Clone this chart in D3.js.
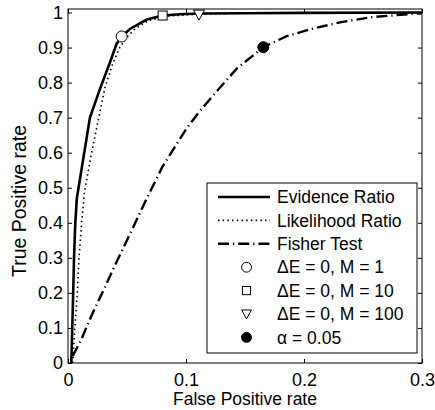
<!DOCTYPE html>
<html>
<head>
<meta charset="utf-8">
<script src="https://cdn.jsdelivr.net/npm/d3@7"></script>
<style>
  body { margin: 0; background: #fff; }
  svg { display: block; font-family: "Liberation Sans", Arial, Helvetica, sans-serif; }
</style>
</head>
<body>
<div id="chart"></div>
<script>
// datos
const evidenceFpr = [0.0028, 0.0032, 0.0036, 0.0044, 0.0051, 0.0062, 0.0075, 0.0186, 0.0271, 0.0356, 0.0412, 0.0455, 0.0525, 0.0667, 0.0802, 0.0949, 0.111, 0.15, 0.2, 0.3];
const evidenceTpr = [0.0, 0.05, 0.1, 0.2, 0.3, 0.4, 0.47, 0.70, 0.782, 0.858, 0.911, 0.9316, 0.953, 0.98, 0.9914, 0.995, 0.997, 0.998, 0.999, 1.0];

const likelihoodFpr = [0.004, 0.0045, 0.006, 0.0079, 0.0093, 0.0116, 0.014, 0.02, 0.0257, 0.0314, 0.0379, 0.044, 0.05, 0.0568, 0.068, 0.085, 0.11, 0.15, 0.2, 0.3];
const likelihoodTpr = [0.0, 0.03, 0.11, 0.2, 0.3, 0.4, 0.49, 0.6, 0.694, 0.787, 0.854, 0.901, 0.93, 0.953, 0.977, 0.99, 0.995, 0.998, 0.999, 1.0];

const fisherFpr = [0.004, 0.0114, 0.0158, 0.0212, 0.0294, 0.04, 0.05, 0.066, 0.08, 0.1006, 0.112, 0.126, 0.143, 0.1655, 0.185, 0.205, 0.2305, 0.258, 0.292, 0.3];
const fisherTpr = [0.02, 0.068, 0.103, 0.145, 0.2025, 0.28, 0.35, 0.464, 0.56, 0.67, 0.72, 0.775, 0.84, 0.901, 0.932, 0.952, 0.972, 0.987, 0.996, 0.998];

// marcadores: puntos de operacion
const markerNames = ["circle", "square", "triangle", "dot"];
const markerFpr = [0.0455, 0.0802, 0.111, 0.1655];
const markerTpr = [0.9316, 0.9914, 0.994, 0.901];

const legendLabels = ["Evidence Ratio", "Likelihood Ratio", "Fisher Test", "ΔE = 0, M = 1", "ΔE = 0, M = 10", "ΔE = 0, M = 100", "α = 0.05"];
const xTicks = [0, 0.1, 0.2, 0.3];
const yTicks = [0, 0.1, 0.2, 0.3, 0.4, 0.5, 0.6, 0.7, 0.8, 0.9, 1];

const W = 435, H = 410;
const margin = { top: 9, right: 13, bottom: 47, left: 68 };
const innerW = W - margin.left - margin.right;
const innerH = H - margin.top - margin.bottom;

const svg = d3.select("#chart").append("svg")
  .attr("width", W)
  .attr("height", H);

const g = svg.append("g")
  .attr("transform", `translate(${margin.left},${margin.top})`);

const x = d3.scaleLinear().domain([0, 0.3]).range([0, innerW]);
const y = d3.scaleLinear().domain([0, 1.01]).range([innerH, 0]);

const fontSize = 17.5;
const tickFont = 18;

// ejes con ticks hacia adentro (estilo matlab)
const fmt = d3.format("");
const styleAxis = (sel) => {
  sel.select(".domain").remove();
  sel.selectAll(".tick line").attr("stroke", "#000").attr("stroke-width", 1);
  sel.selectAll("text").attr("fill", "#000").attr("font-size", tickFont)
    .attr("font-family", "'Liberation Sans', Arial, Helvetica, sans-serif");
  sel.attr("font-family", null).attr("font-size", null);
};

g.append("g").attr("transform", `translate(0,${innerH})`)
  .call(d3.axisBottom(x).tickValues(xTicks).tickFormat(fmt).tickSize(-4).tickPadding(10))
  .call(styleAxis);
g.append("g")
  .call(d3.axisTop(x).tickValues(xTicks).tickFormat("").tickSize(-4))
  .call(styleAxis);
g.append("g")
  .call(d3.axisLeft(y).tickValues(yTicks).tickFormat(fmt).tickSize(-4).tickPadding(5))
  .call(styleAxis);
g.append("g").attr("transform", `translate(${innerW},0)`)
  .call(d3.axisRight(y).tickValues(yTicks).tickFormat("").tickSize(-4))
  .call(styleAxis);

// lineas
const line = d3.line().x((d) => x(d[0])).y((d) => y(d[1]));

const series = [
  { name: legendLabels[0], pts: d3.zip(evidenceFpr, evidenceTpr), width: 2.6, dash: null },
  { name: legendLabels[1], pts: d3.zip(likelihoodFpr, likelihoodTpr), width: 1.6, dash: "1.5,3.2" },
  { name: legendLabels[2], pts: d3.zip(fisherFpr, fisherTpr), width: 2.4, dash: "11,4,1.2,4" },
];

g.append("clipPath").attr("id", "clip")
  .append("rect").attr("width", innerW).attr("height", innerH);

const plot = g.append("g").attr("clip-path", "url(#clip)");

plot.selectAll("path.serie")
  .data(series)
  .enter()
  .append("path")
  .attr("class", "serie")
  .attr("d", (d) => line(d.pts))
  .attr("fill", "none")
  .attr("stroke", "#000")
  .attr("stroke-width", (d) => d.width)
  .attr("stroke-dasharray", (d) => d.dash);

// dibujar un marcador
const drawMarker = (sel, kind, cx, cy, s = 1) => {
  if (kind === "circle") {
    sel.append("circle").attr("cx", cx).attr("cy", cy).attr("r", 5.5 * s)
      .attr("fill", "#fff").attr("stroke", "#000").attr("stroke-width", 1);
  } else if (kind === "square") {
    sel.append("rect").attr("x", cx - 4.5 * s).attr("y", cy - 4.5 * s).attr("width", 9 * s).attr("height", 9 * s)
      .attr("fill", "#fff").attr("stroke", "#000").attr("stroke-width", 1);
  } else if (kind === "triangle") {
    sel.append("path")
      .attr("d", `M${cx - 5.5 * s},${cy - 4.5 * s}L${cx + 5.5 * s},${cy - 4.5 * s}L${cx},${cy + 5.5 * s}Z`)
      .attr("fill", "#fff").attr("stroke", "#000").attr("stroke-width", 1);
  } else {
    sel.append("circle").attr("cx", cx).attr("cy", cy).attr("r", 5.5 * s)
      .attr("fill", "#000").attr("stroke", "#000").attr("stroke-width", 1);
  }
};

markerNames.forEach((m, i) => drawMarker(g, m, x(markerFpr[i]), y(markerTpr[i])));

// marco
g.append("rect")
  .attr("x", 0).attr("y", 0).attr("width", innerW).attr("height", innerH)
  .attr("fill", "none").attr("stroke", "#000").attr("stroke-width", 1);

// leyenda
const legend = svg.append("g").attr("transform", "translate(207,183)");
legend.append("rect")
  .attr("width", 210).attr("height", 170)
  .attr("fill", "#fff").attr("stroke", "#000").attr("stroke-width", 1);

const rowY = (i) => 14 + i * 23.4;
legendLabels.forEach((lab, i) => {
  const yy = rowY(i);
  if (i < 3) {
    const s = series[i];
    legend.append("line")
      .attr("x1", 11).attr("x2", 63).attr("y1", yy).attr("y2", yy)
      .attr("stroke", "#000").attr("stroke-width", s.width)
      .attr("stroke-dasharray", s.dash);
  } else {
    drawMarker(legend, markerNames[i - 3], 39.5, yy, 0.9);
  }
  legend.append("text")
    .attr("x", 70).attr("y", yy).attr("dy", "0.35em")
    .attr("font-size", fontSize)
    .text(lab);
});

// etiquetas de ejes
svg.append("text")
  .attr("x", margin.left + innerW / 2)
  .attr("y", 405)
  .attr("text-anchor", "middle")
  .attr("font-size", fontSize)
  .text("False Positive rate");

svg.append("text")
  .attr("transform", "translate(26,201) rotate(-90)")
  .attr("text-anchor", "middle")
  .attr("font-size", 19.5)
  .text("True Positive rate");
</script>
</body>
</html>
